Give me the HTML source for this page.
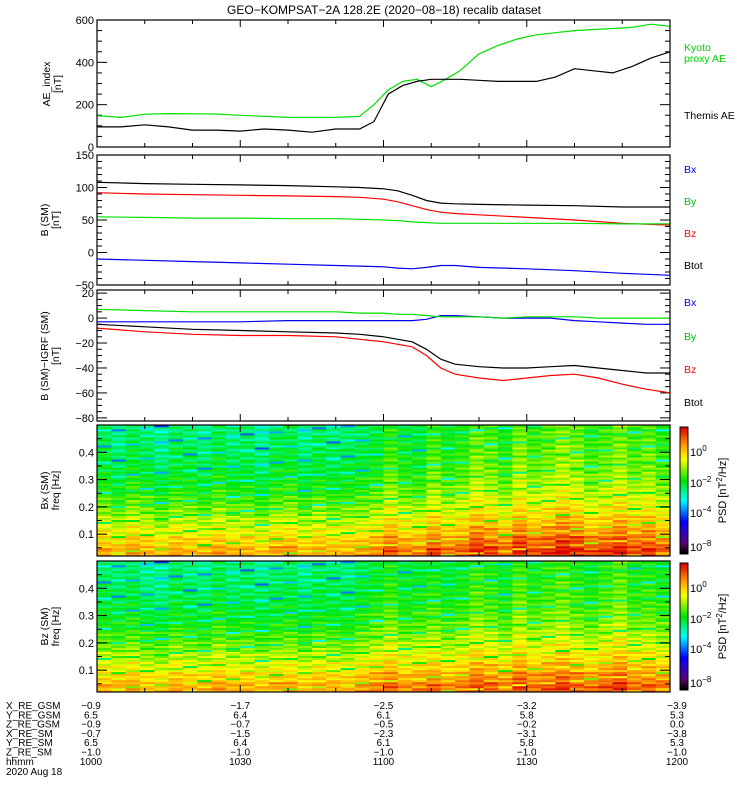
<!DOCTYPE html>
<html><head><meta charset="utf-8">
<style>
html,body{margin:0;padding:0;background:#fff;}
svg{display:block;font-family:"Liberation Sans",sans-serif;}
</style></head>
<body>
<svg id="chart" width="750" height="800" viewBox="0 0 750 800" xmlns="http://www.w3.org/2000/svg">
<text x="384" y="14" font-size="12" text-anchor="middle">GEO−KOMPSAT−2A 128.2E (2020−08−18) recalib dataset</text>
<g id="g"></g>
</svg>
<script>
// ---- data (time in minutes from 10:00) ----
const aeTimes   = [0,5,10,15,20,25,30,35,40,45,50,55,58,61,64,67,70,73,76,80,84,88,92,96,100,104,108,112,116,120];
const kyotoAE   = [148,140,155,158,157,156,150,145,140,140,140,145,200,270,310,320,285,320,360,440,480,510,530,540,550,555,560,565,580,570];
const themisAE  = [95,95,105,95,80,80,75,85,80,70,85,85,120,250,290,310,320,320,320,315,310,310,310,330,370,360,350,380,420,450];
const bTimes    = [0,10,20,30,40,50,55,60,63,66,69,72,75,80,90,100,110,120];
const bBtot     = [108,106,105,104,103,101,100,98,95,88,80,76,75,74,73,72,70,70];
const bBz       = [92,90,89,88,87,86,85,82,78,72,66,62,60,58,54,50,45,42];
const bBy       = [55,54,53,53,52,52,51,50,49,47,46,45,45,45,45,45,44,44];
const bBx       = [-10,-12,-14,-16,-18,-20,-21,-22,-24,-25,-23,-20,-20,-23,-25,-28,-32,-35];
const dTimes    = [0,10,20,30,40,50,55,60,63,66,69,72,75,80,85,90,95,100,105,110,115,120];
const dBz       = [-8,-11,-13,-14,-14,-15,-17,-19,-21,-23,-30,-40,-45,-48,-50,-48,-46,-45,-48,-53,-57,-60];
const dBtot     = [-5,-7,-9,-10,-11,-12,-13,-15,-17,-19,-25,-33,-37,-39,-40,-40,-39,-38,-40,-42,-44,-44];
const dBx       = [-3,-3,-3,-3,-2,-2,-2,-2,-2,-2,-1,2,2,1,0,0,0,-2,-3,-4,-5,-5];
const dBy       = [7,6,5,5,5,5,4,4,3,3,2,1,1,1,0,1,1,1,0,0,0,0];
// spectrogram: per-column overall log10 PSD offset (40 columns x 3 min)
const bxColumnLevel = [0.1,-0.2,0.2,0,-0.3,0.1,0,-0.2,0.2,-0.1,0,-0.3,0.1,0.2,-0.2,0.1,-0.1,0,0.1,0.3,0.8,0.4,0.3,0.9,0.5,0.7,1.2,1.0,0.6,1.3,0.9,1.1,1.4,1.2,0.8,1.0,1.3,0.9,1.1,0.7];
const bzColumnLevel = [0,-0.1,0.1,-0.2,-0.3,0.1,-0.1,-0.2,0.2,-0.1,0,-0.2,0,0.1,-0.2,0.1,0,-0.1,0.2,0.4,0.7,0.3,0.4,0.6,0.3,0.5,0.9,0.7,0.4,1.0,0.6,0.8,1.0,0.7,0.5,0.8,1.1,0.6,0.7,0.5];
// frequency profile, 13 bands from low (0.02 Hz) to high (0.5 Hz)
const freqProfile = [-0.2,-0.6,-1.1,-1.5,-1.9,-2.2,-2.5,-2.7,-2.9,-3.0,-3.1,-3.2,-3.3];
// row-to-row texture (log10 deviation)
const rowTexture = [0.2,-0.3,0.1,0.4,-0.5,0,0.3,-0.2,-0.8,0.1,0.2,-0.1,0.5,-0.4,0,0.3,-1.5,0.1,-0.2,0.4,0,-0.3,0.2,0.1,-0.6,0.3,0,-0.2,0.4,-0.1,0.1,-1.2,0.2,0,-0.4,0.3,0.1,-0.2];
const cbTickVals = [0,-2,-4,-8];
const cbTickY    = [452,483,513,547];
const posRows = [
 ["X_RE_GSM",["−0.9","−1.7","−2.5","−3.2","−3.9"]],
 ["Y_RE_GSM",["6.5","6.4","6.1","5.8","5.3"]],
 ["Z_RE_GSM",["−0.9","−0.7","−0.5","−0.2","0.0"]],
 ["X_RE_SM",["−0.7","−1.5","−2.3","−3.1","−3.8"]],
 ["Y_RE_SM",["6.5","6.4","6.1","5.8","5.3"]],
 ["Z_RE_SM",["−1.0","−1.0","−1.0","−1.0","−1.0"]],
 ["hhmm",["1000","1030","1100","1130","1200"]]
];

const NS="http://www.w3.org/2000/svg";
const G=document.getElementById('g');
function el(tag,attrs,parent){const e=document.createElementNS(NS,tag);for(const k in attrs)e.setAttribute(k,attrs[k]);(parent||G).appendChild(e);return e;}
const X0=97,X1=670;
const xs=t=>X0+t/120*(X1-X0);

function panel(name,top,bot,vmin,vmax,major,minor){
  const ys=v=>bot-(v-vmin)/(vmax-vmin)*(bot-top);
  const g=el('g',{});
  
  
  for(let t=0;t<=120;t+=10){
    const big=t%30===0, L=big?7:4;
    el('line',{x1:xs(t),x2:xs(t),y1:bot,y2:bot-L,stroke:'#000'},g);
    el('line',{x1:xs(t),x2:xs(t),y1:top,y2:top+L,stroke:'#000'},g);
  }
  for(let v=vmin;v<=vmax+1e-9;v+=minor){
    const isMaj=Math.abs(Math.round(v/major)*major-v)<1e-6;
    const L=isMaj?10:5,y=ys(v);
    el('line',{x1:X0,x2:X0+L,y1:y,y2:y,stroke:'#000'},g);
    el('line',{x1:X1,x2:X1-L,y1:y,y2:y,stroke:'#000'},g);
    if(isMaj){const tx=el('text',{x:X0-3,y:y+4,'font-size':11,'text-anchor':'end'},g);tx.textContent=v<0?'−'+(-v):v;
      
      }
  }
  return {g,ys};
}
function series(p,times,vals,color,name){
  const d=times.map((t,i)=>(i?'L':'M')+xs(t).toFixed(1)+','+p.ys(vals[i]).toFixed(1)).join('');
  const e=el('path',{d:d,fill:'none',stroke:color,'stroke-width':1.2},p.g);
  
  
}
function frame(p,top,bot){el('rect',{x:X0,y:top,width:X1-X0,height:bot-top,fill:'none',stroke:'#000','stroke-width':1.2},p.g);}
function ytitle(lines,x,cy){
  lines.forEach((s,i)=>{const t=el('text',{transform:`translate(${x+i*11},${cy}) rotate(-90)`,'font-size':10.5,'text-anchor':'middle'});t.textContent=s;
    
    });
}
function rlabel(txt,y,color){const t=el('text',{x:684,y:y,'font-size':10.5,fill:color});t.textContent=txt;
  
  }

// Panel 1
let p=panel('ae-panel',20,147,0,600,200,50);
series(p,aeTimes,kyotoAE,'#00e000','kyoto-ae-line');
series(p,aeTimes,themisAE,'#000','themis-ae-line');
frame(p,20,147);
ytitle(['AE_index','[nT]'],50,84);
rlabel('Kyoto',51,'#00d000');rlabel('proxy AE',62,'#00d000');rlabel('Themis AE',119,'#000');
// Panel 2
p=panel('b-sm-panel',155,285,-50,150,50,10);
series(p,bTimes,bBtot,'#000','btot-line');
series(p,bTimes,bBz,'#f00','bz-line');
series(p,bTimes,bBy,'#00e000','by-line');
series(p,bTimes,bBx,'#0000f0','bx-line');
frame(p,155,285);
ytitle(['B (SM)','[nT]'],48,220);
rlabel('Bx',173,'#0000f0');rlabel('By',205,'#00c000');rlabel('Bz',237,'#f00');rlabel('Btot',269,'#000');
// Panel 3
p=(function(){const top=290,bot=421,vmin=-82.5,vmax=22.5;const ys=v=>bot-(v-vmin)/(vmax-vmin)*(bot-top);
  const g=el('g',{});
  for(let t=0;t<=120;t+=10){const L=t%30===0?7:4;el('line',{x1:xs(t),x2:xs(t),y1:bot,y2:bot-L,stroke:'#000'},g);el('line',{x1:xs(t),x2:xs(t),y1:top,y2:top+L,stroke:'#000'},g);}
  for(let v=-80;v<=20;v+=5){const maj=v%20===0,L=maj?10:5,y=ys(v);
    el('line',{x1:X0,x2:X0+L,y1:y,y2:y,stroke:'#000'},g);el('line',{x1:X1,x2:X1-L,y1:y,y2:y,stroke:'#000'},g);
    if(maj){const tx=el('text',{x:X0-3,y:y+4,'font-size':11,'text-anchor':'end'},g);tx.textContent=v<0?'−'+(-v):v;
      
      }}
  return {g,ys};})();
series(p,dTimes,dBx,'#0000f0','dbx-line');
series(p,dTimes,dBy,'#00e000','dby-line');
series(p,dTimes,dBtot,'#000','dbtot-line');
series(p,dTimes,dBz,'#f00','dbz-line');
frame(p,290,421);
ytitle(['B (SM)−IGRF (SM)','[nT]'],48,356);
rlabel('Bx',306,'#0000f0');rlabel('By',340,'#00c000');rlabel('Bz',373,'#f00');rlabel('Btot',406,'#000');

// colormap
const stops=[[0,[0,0,0]],[0.08,[90,0,120]],[0.25,[0,0,255]],[0.42,[0,255,255]],[0.58,[0,230,0]],[0.75,[255,255,0]],[0.87,[255,150,0]],[1,[220,0,0]]];
function cmap(t){t=Math.max(0,Math.min(1,t));for(let i=1;i<stops.length;i++){if(t<=stops[i][0]){const a=stops[i-1],b=stops[i],f=(t-a[0])/(b[0]-a[0]);return 'rgb('+a[1].map((c,k)=>Math.round(c+(b[1][k]-c)*f)).join(',')+')';}}return 'rgb(220,0,0)';}
const vToT=v=>(v+8)/9.3;

function spectro(name,top,bot,colLevels,label){
  const g=el('g',{});
  
  
  const nC=colLevels.length,nR=65,cw=(X1-X0)/nC,rh=(bot-top)/nR;
  colLevels.forEach((lv,c)=>{
    for(let r=0;r<nR;r++){
      const band=Math.floor(r/5);
      const v=lv+freqProfile[band]+rowTexture[(r+c*7)%rowTexture.length]*1.2;
      const rc=el('rect',{x:(X0+c*cw).toFixed(2),y:(bot-(r+1)*rh).toFixed(2),width:(cw+0.4).toFixed(2),height:(rh+0.3).toFixed(2),fill:cmap(vToT(v))},g);
      
      
    }
  });
  const fy=f=>bot-(f-0.02)/(0.5-0.02)*(bot-top);
  for(let k=1;k<=9;k++){const f=k*0.05,maj=k%2===0,L=maj?10:5,y=fy(f);
    el('line',{x1:X0,x2:X0+L,y1:y,y2:y,stroke:'#000'},g);el('line',{x1:X1,x2:X1-L,y1:y,y2:y,stroke:'#000'},g);
    if(maj){const t=el('text',{x:X0-3,y:y+4,'font-size':11,'text-anchor':'end'},g);t.textContent=f.toFixed(1);
      
      }}
  for(let t=0;t<=120;t+=10){const L=t%30===0?7:4;el('line',{x1:xs(t),x2:xs(t),y1:bot,y2:bot-L,stroke:'#000'},g);el('line',{x1:xs(t),x2:xs(t),y1:top,y2:top+L,stroke:'#000'},g);}
  el('rect',{x:X0,y:top,width:X1-X0,height:bot-top,fill:'none',stroke:'#000','stroke-width':1.2},g);
  ytitle([label,'freq [Hz]'],48,(top+bot)/2);
  const cb=el('g',{});
  
  
  const n=60,ch=(bot-top-4)/n;
  for(let i=0;i<n;i++)el('rect',{x:680,y:(top+2+i*ch).toFixed(2),width:8,height:(ch+0.3).toFixed(2),fill:cmap(1-i/(n-1))},cb);
  el('rect',{x:680,y:top+2,width:8,height:bot-top-4,fill:'none',stroke:'#000'},cb);
  cbTickVals.forEach((v,i)=>{const y=cbTickY[i]-425+top;
    const t=el('text',{x:690,y:y+4,'font-size':11},cb);t.innerHTML='10<tspan dy="-5" font-size="8">'+(v<0?'−'+(-v):v)+'</tspan>';
    
    });
  const pt=el('text',{transform:`translate(726,${(top+bot)/2}) rotate(-90)`,'font-size':11,'text-anchor':'middle'},cb);
  pt.innerHTML='PSD [nT<tspan dy="-4" font-size="8">2</tspan><tspan dy="4">/Hz]</tspan>';
  
  
}
spectro('bx-spectrogram',425,556,bxColumnLevel,'Bx (SM)');
spectro('bz-spectrogram',561,692,bzColumnLevel,'Bz (SM)');

posRows.forEach((row,i)=>{
  const y=709+i*9.3;
  const l=el('text',{x:6,y:y,'font-size':10});l.textContent=row[0];
  
  
  row[1].forEach((s,j)=>{let x=xs(j*30);if(j===0)x=91;if(j===4)x=677;
    const t=el('text',{x:x,y:y,'font-size':10,'text-anchor':'middle'});t.textContent=s;
    
    });
});
const dt=el('text',{x:6,y:775,'font-size':10});dt.textContent='2020 Aug 18';


</script>
</body></html>
